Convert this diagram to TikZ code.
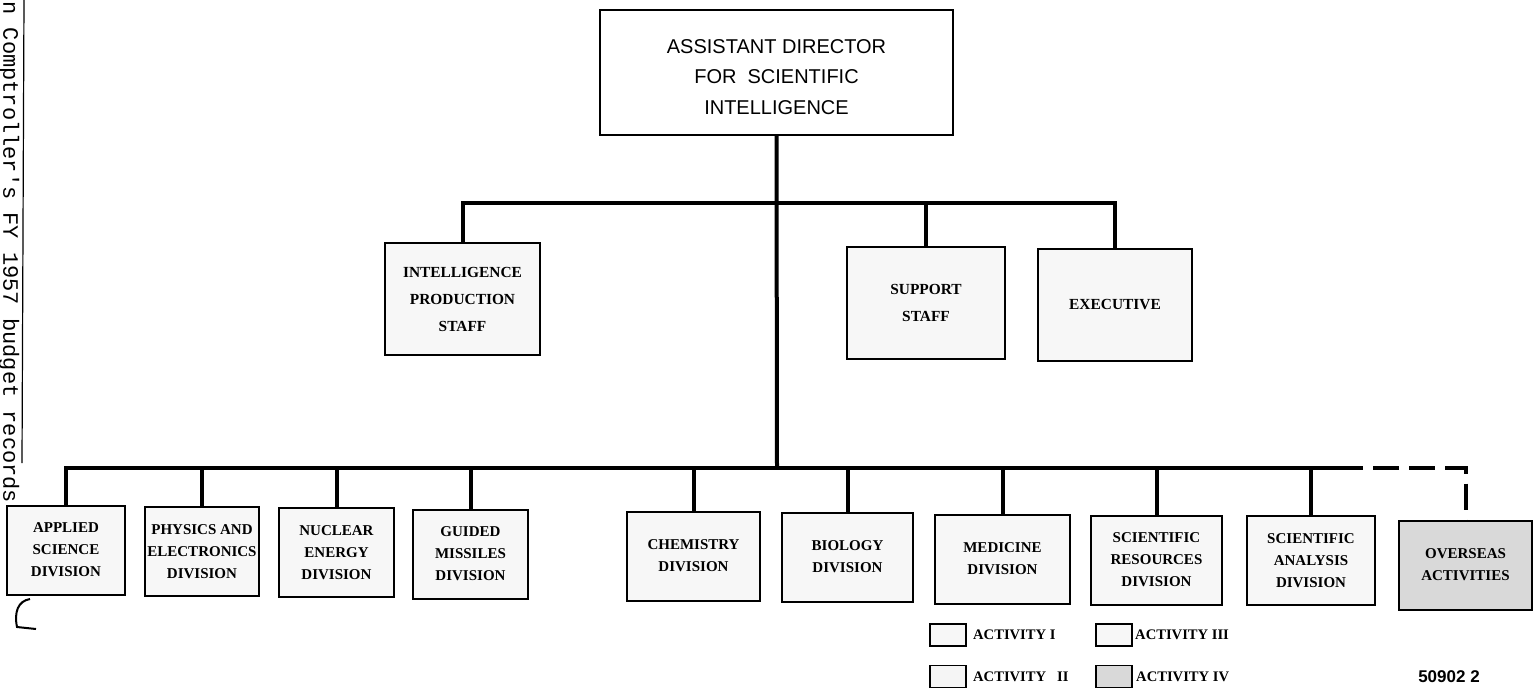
\documentclass[tikz,border=0pt]{standalone}
\usepackage{fontspec}
\setmainfont{Liberation Serif}
\setsansfont{Liberation Sans}
\setmonofont{Liberation Mono}
\usetikzlibrary{positioning}

\begin{document}
\begin{tikzpicture}[
  x=0.5pt, y=-0.5pt,
  box/.style={draw, line width=1pt, fill=black!3, inner sep=0pt, align=center,
    font=\bfseries\fontsize{7.5}{11}\selectfont},
  staffbox/.style={box, minimum height=56pt,
    font=\bfseries\fontsize{7.7}{13.5}\selectfont},
  divbox/.style={box, minimum height=44.5pt},
  conn/.style={line width=2pt},
  keybox/.style={draw, line width=0.8pt, fill=black!3, inner sep=0pt,
    minimum width=18pt, minimum height=11pt},
  keytext/.style={inner sep=0pt, font=\bfseries\fontsize{7.3}{8}\selectfont},
]
\useasboundingbox (0,0) rectangle (1538,692);
\fill[white] (0,0) rectangle (1538,692);

\node[font=\ttfamily\fontsize{11}{12}\selectfont, rotate=-90, anchor=west,
  inner sep=0pt] (src) at (9,1) {n Comptroller's FY 1957 budget records};
\draw[line width=0.6pt] (24,0) -- (22,463);
\draw[line width=1pt] (30,599) .. controls (18,601) and (14,612) .. (17,627) -- (36,629);

\node[draw, line width=0.8pt, minimum width=176.5pt, minimum height=62.5pt]
  (asd) at (776.5,72.5) {};
\node[align=center, font=\sffamily\fontsize{10}{15.4}\selectfont]
  (asdtext) at (776.5,77) {ASSISTANT DIRECTOR\\FOR\ \ SCIENTIFIC\\INTELLIGENCE};

\node[staffbox, minimum width=77.5pt] (ips) at (462.5,299) {INTELLIGENCE\\PRODUCTION\\STAFF};
\node[staffbox, minimum width=79pt] (sup) at (926,302.5) {SUPPORT\\STAFF};
\node[staffbox, minimum width=77pt] (exec) at (1115,305) {EXECUTIVE};

\node[divbox, minimum width=59pt] (appl) at (66,550) {APPLIED\\SCIENCE\\DIVISION};
\node[divbox, minimum width=57pt] (phys) at (202,551.5) {PHYSICS AND\\ELECTRONICS\\DIVISION};
\node[divbox, minimum width=57.5pt] (nucl) at (336.5,552.5) {NUCLEAR\\ENERGY\\DIVISION};
\node[divbox, minimum width=57.5pt] (gm) at (470.5,554) {GUIDED\\MISSILES\\DIVISION};
\node[divbox, minimum width=66.5pt] (chem) at (693.5,556) {CHEMISTRY\\DIVISION};
\node[divbox, minimum width=65.5pt] (bio) at (847.5,557) {BIOLOGY\\DIVISION};
\node[divbox, minimum width=67.5pt] (med) at (1002.5,559) {MEDICINE\\DIVISION};
\node[divbox, minimum width=65.5pt] (sres) at (1156.5,560) {SCIENTIFIC\\RESOURCES\\DIVISION};
\node[divbox, minimum width=64pt] (sana) at (1311,560.5) {SCIENTIFIC\\ANALYSIS\\DIVISION};
\node[divbox, minimum width=66.5pt, fill=black!15] (over) at (1465.5,565) {OVERSEAS\\ACTIVITIES};

\coordinate (sbus) at (777,203);
\coordinate (dbus) at (777,468);
\coordinate (dend) at (1337,468);

\draw[conn] (asd.south) -- (dbus);
\draw[conn] (ips.north) |- (exec.north |- sbus) -- (exec.north);
\draw[conn] (sup.north) -- (sup.north |- sbus);
\draw[conn] (appl.north) |- (dend);
\foreach \n in {phys,nucl,gm,chem,bio,med,sres,sana}
  \draw[conn] (\n.north) -- (\n.north |- dbus);
\draw[conn, dash pattern=on 13pt off 5pt] (dend) -| (over.north);

\node[keybox] (k1) at (948,635) {};
\node[keybox, fill=black!4] (k2) at (948,676.5) {};
\node[keybox] (k3) at (1114,635) {};
\node[keybox, fill=black!15] (k4) at (1114,676.5) {};
\node[keytext, right=3pt of k1] (t1) {ACTIVITY I};
\node[keytext, right=3pt of k2] (t2) {ACTIVITY\ \ \ II};
\node[keytext, right=1pt of k3] (t3) {ACTIVITY III};
\node[keytext, right=1.5pt of k4] (t4) {ACTIVITY IV};
\node[font=\sffamily\bfseries\fontsize{8.5}{9}\selectfont, inner sep=0pt]
  (num) at (1449,677) {50902\ 2};
\end{tikzpicture}
\end{document}
